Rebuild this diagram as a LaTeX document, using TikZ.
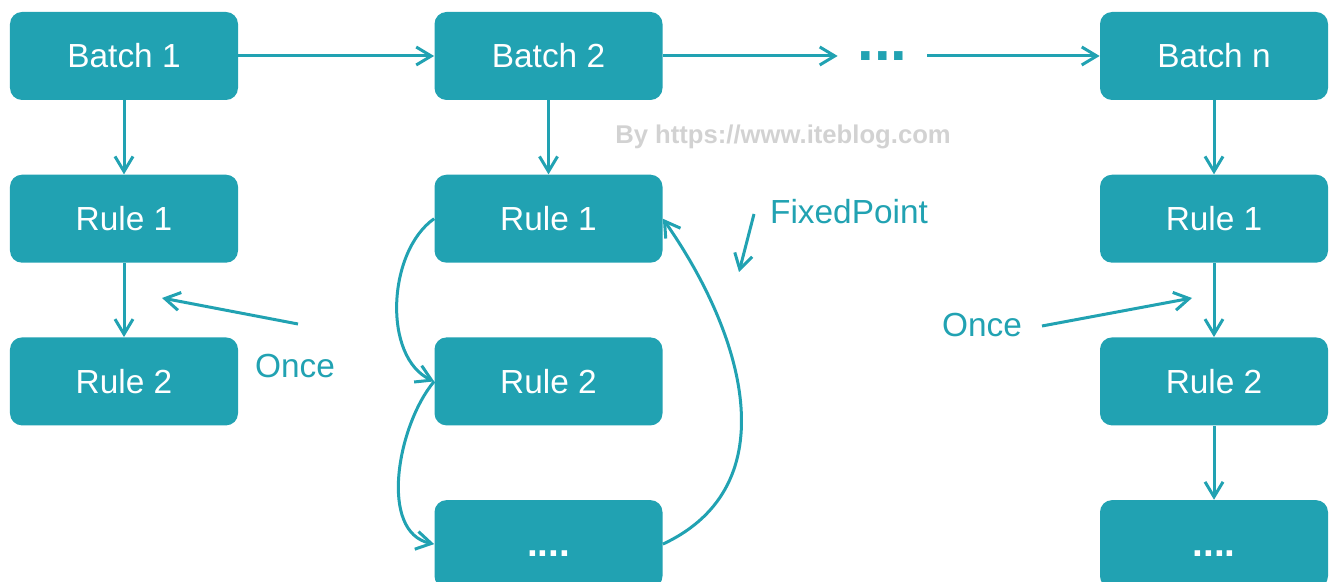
\documentclass[tikz,border=0pt]{standalone}
\usepackage{fontspec}
\setmainfont{Liberation Sans}
\usetikzlibrary{arrows.meta, positioning}
\definecolor{batchteal}{HTML}{21A2B2}
\definecolor{markgray}{HTML}{D2D2D2}

\tikzset{
  stagebox/.style={fill=batchteal, rounded corners=0.24cm, minimum width=4.56cm, minimum height=1.76cm,
    inner sep=0pt, text=white, text height=0.48cm, text depth=0pt, font=\fontsize{19}{19}\selectfont},
  flow/.style={batchteal, line width=0.6mm, -{Straight Barb[length=3mm,width=3.6mm]}},
  looplabel/.style={batchteal, font=\fontsize{19}{19}\selectfont},
}

\begin{document}
\begin{tikzpicture}[node distance=1.48cm]
  \useasboundingbox (0,0) rectangle (26.7,-11.64);

  % Batch row
  \node[stagebox] (b1) at (2.48,-1.12) {Batch 1};
  \node[stagebox] (b2) at (10.97,-1.12) {Batch 2};
  \node[stagebox] (bn) at (24.28,-1.12) {Batch n};
  \node[batchteal, minimum width=1.78cm, inner sep=0pt, font=\fontsize{34}{34}\selectfont\bfseries] (skip) at (17.65,-1.12) {...};

  % Rules of each batch
  \node[stagebox, below=of b1] (r11) {Rule 1};
  \node[stagebox, below=of r11] (r12) {Rule 2};
  \node[stagebox, below=of b2] (r21) {Rule 1};
  \node[stagebox, below=of r21] (r22) {Rule 2};
  \node[stagebox, below=of r22, font=\fontsize{22}{22}\selectfont\bfseries] (r23) {....};
  \node[stagebox, below=of bn] (rn1) {Rule 1};
  \node[stagebox, below=of rn1] (rn2) {Rule 2};
  \node[stagebox, below=of rn2, font=\fontsize{22}{22}\selectfont\bfseries] (rn3) {....};

  % Straight flow
  \foreach \a/\b in {b1/b2, b2/skip, skip/bn, b1/r11, r11/r12, b2/r21, bn/rn1, rn1/rn2, rn2/rn3}
    \draw[flow] (\a) -- (\b);

  % Fixed point loop in batch 2
  \draw[flow] (r21.west) to[out=215, in=155, looseness=0.9] (r22.west);
  \draw[flow] (r22.west) to[out=230, in=168, looseness=0.9] (r23.west);
  \draw[flow] (r23.east) to[out=25, in=-55, looseness=1.1] (r21.east);

  % Watermark
  \node[markgray, font=\fontsize{14.6}{14.6}\selectfont\bfseries] (mark) at (15.66,-2.74) {By https://www.iteblog.com};

  % Strategy labels
  \node[looplabel] (once1) at (5.9,-7.32) {Once};
  \coordinate (once1from) at (5.96,-6.48);
  \coordinate (once1to) at (3.24,-5.96);
  \draw[flow] (once1from) -- (once1to);

  \node[looplabel] (fixed) at (16.98,-4.24) {FixedPoint};
  \coordinate (fixedfrom) at (15.08,-4.28);
  \coordinate (fixedto) at (14.78,-5.44);
  \draw[flow] (fixedfrom) -- (fixedto);

  \node[looplabel] (oncen) at (19.64,-6.5) {Once};
  \coordinate (oncenfrom) at (20.84,-6.52);
  \coordinate (oncento) at (23.84,-5.96);
  \draw[flow] (oncenfrom) -- (oncento);
\end{tikzpicture}
\end{document}
